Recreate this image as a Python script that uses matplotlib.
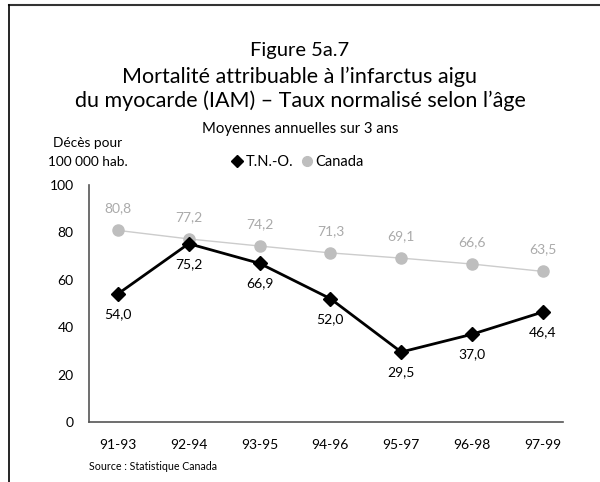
import matplotlib.pyplot as plt
from matplotlib.lines import Line2D

plt.rcParams['font.family'] = ['Lato', 'DejaVu Sans']

periods = ["91-93", "92-94", "93-95", "94-96", "95-97", "96-98", "97-99"]
tno = [54.0, 75.2, 66.9, 52.0, 29.5, 37.0, 46.4]
canada = [80.8, 77.2, 74.2, 71.3, 69.1, 66.6, 63.5]
yticks = [0, 20, 40, 60, 80, 100]

def fmt(v):
    return f"{v:.1f}".replace(".", ",")

fig = plt.figure(figsize=(6, 4.82), dpi=100)
ax = fig.add_axes([0.148, 0.1245, 0.79, 0.492])

x = list(range(len(periods)))
ax.plot(x, canada, color="#cccccc", linewidth=1.0, marker="o", markersize=8,
        markerfacecolor="#bebebe", markeredgecolor="#bebebe", zorder=2)
ax.plot(x, tno, color="black", linewidth=2, marker="D", markersize=7,
        markerfacecolor="black", markeredgecolor="black", zorder=3)

for i, v in enumerate(canada):
    ax.annotate(fmt(v), (i, v), xytext=(0, 16), textcoords="offset points",
                ha="center", va="center", fontsize=10, color="#aaaaaa")
for i, v in enumerate(tno):
    ax.annotate(fmt(v), (i, v), xytext=(0, -14.5), textcoords="offset points",
                ha="center", va="center", fontsize=10, color="black")

ax.set_xlim(-0.41, 6.28)
ax.set_ylim(0, 100)
ax.set_xticks(x)
ax.set_xticklabels(periods, fontsize=10)
ax.set_yticks(yticks)
ax.set_yticklabels([str(t) for t in yticks], fontsize=10)
ax.tick_params(axis="both", length=0)
ax.tick_params(axis="y", pad=11)
ax.tick_params(axis="x", pad=12)
for side in ["top", "right"]:
    ax.spines[side].set_visible(False)
for side in ["left", "bottom"]:
    ax.spines[side].set_color("#555555")
    ax.spines[side].set_linewidth(1.2)

handles = [
    Line2D([], [], linestyle="none", marker="D", markersize=6, color="black"),
    Line2D([], [], linestyle="none", marker="o", markersize=7, color="#bebebe"),
]
fig.legend(handles, ["T.N.-O.", "Canada"], loc="center", bbox_to_anchor=(0.495, 0.664),
           ncol=2, frameon=False, fontsize=10.5, handletextpad=0.1,
           columnspacing=0.4, handlelength=1.0)

fig.text(0.5, 0.896, "Figure 5a.7", ha="center", va="center", fontsize=14.5)
fig.text(0.5, 0.84, "Mortalité attribuable à l\u2019infarctus aigu", ha="center",
         va="center", fontsize=15.5)
fig.text(0.5, 0.791, "du myocarde (IAM) \u2013 Taux normalisé selon l\u2019âge", ha="center",
         va="center", fontsize=15.5)
fig.text(0.5, 0.732, "Moyennes annuelles sur 3 ans", ha="center", va="center", fontsize=10.7)
fig.text(0.146, 0.703, "Décès pour", ha="center", va="center", fontsize=9.8)
fig.text(0.146, 0.664, "100 000 hab.", ha="center", va="center", fontsize=9.8)
fig.text(0.148, 0.033, "Source : Statistique Canada", ha="left", va="center", fontsize=7.7)

# cadre (haut et gauche seulement)
fig.add_artist(Line2D([0.015, 1.0], [0.99, 0.99], transform=fig.transFigure,
                      color="#333333", linewidth=1.5))
fig.add_artist(Line2D([0.015, 0.015], [0.0, 0.99], transform=fig.transFigure,
                      color="black", linewidth=1.2))

fig.savefig("out.png", dpi=100)
